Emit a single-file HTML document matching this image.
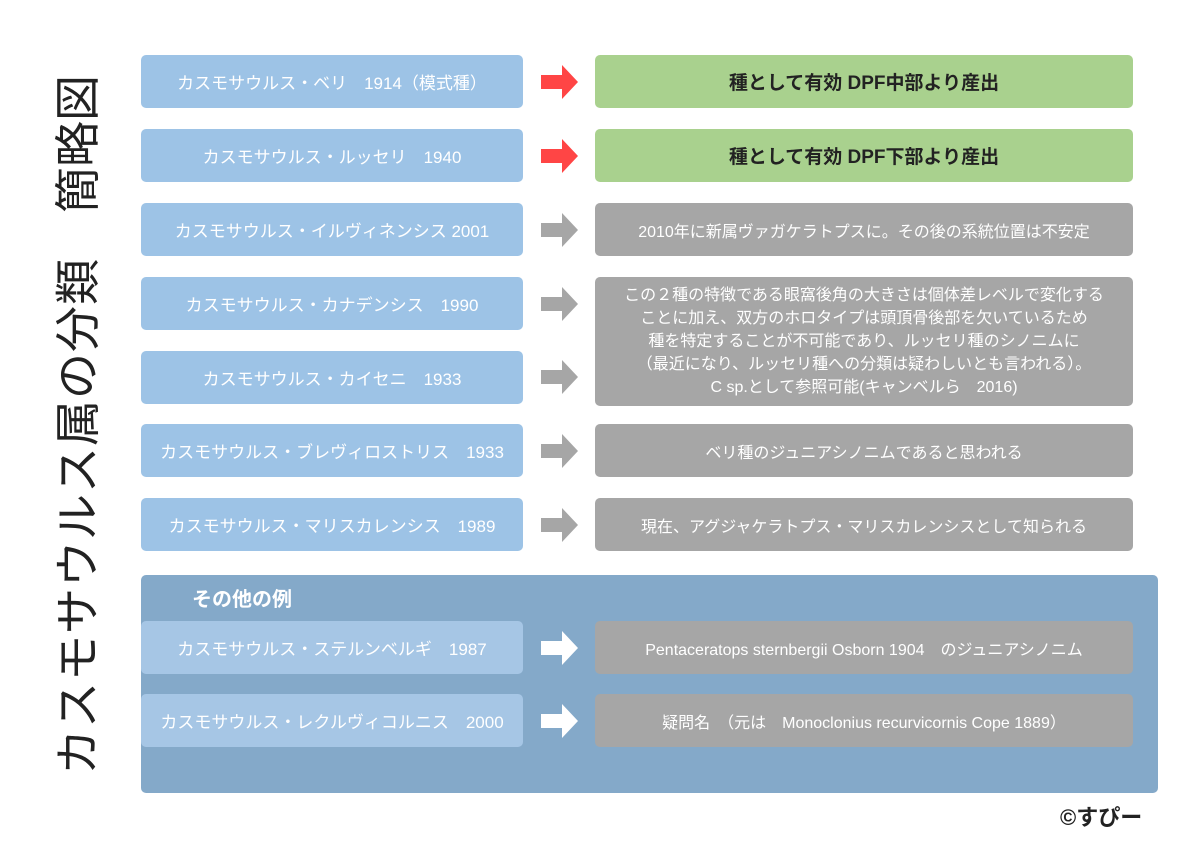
<!DOCTYPE html><html><head><meta charset="utf-8"><style>
body{margin:0;width:1199px;height:848px;background:#fff;position:relative;overflow:hidden;font-family:"Liberation Sans","Noto Sans CJK JP",sans-serif}
.b{position:absolute;display:flex;align-items:center;justify-content:center;border-radius:5px;color:#fff;font-size:17px;text-align:center;white-space:nowrap}
.l{left:141px;width:382px;height:53px;background:#9dc3e6}
.r{left:595px;width:538px;height:53px;background:#a6a6a6;font-size:16px}
.g{background:#a9d18e;color:#222;font-weight:bold;font-size:19px}
.a{position:absolute;left:541px;width:37px;height:34px}
.t{position:absolute;left:-272px;top:400px;width:700px;height:50px;line-height:50px;transform:rotate(-90deg);font-size:46px;color:#222;white-space:nowrap;display:flex;justify-content:space-between}
</style></head><body>
<div class="t"><span style="letter-spacing:1px">カスモサウルス属の分類</span><span>簡略図</span></div>
<div style="position:absolute;left:141px;top:575px;width:1017px;height:218px;background:#84a9c9;border-radius:5px"></div>
<div style="position:absolute;left:192px;top:583px;font-size:20px;font-weight:bold;color:#fff">その他の例</div>

<div class="b l" style="top:55px">カスモサウルス・ベリ　1914（模式種）</div>
<div class="b l" style="top:129px">カスモサウルス・ルッセリ　1940</div>
<div class="b l" style="top:203px">カスモサウルス・イルヴィネンシス 2001</div>
<div class="b l" style="top:277px">カスモサウルス・カナデンシス　1990</div>
<div class="b l" style="top:351px">カスモサウルス・カイセニ　1933</div>
<div class="b l" style="top:424px">カスモサウルス・ブレヴィロストリス　1933</div>
<div class="b l" style="top:498px">カスモサウルス・マリスカレンシス　1989</div>
<div class="b l" style="top:621px;background:#a6c6e5">カスモサウルス・ステルンベルギ　1987</div>
<div class="b l" style="top:694px;background:#a6c6e5">カスモサウルス・レクルヴィコルニス　2000</div>

<div class="b r g" style="top:55px">種として有効 DPF中部より産出</div>
<div class="b r g" style="top:129px">種として有効 DPF下部より産出</div>
<div class="b r" style="top:203px">2010年に新属ヴァガケラトプスに。その後の系統位置は不安定</div>
<div class="b r" style="top:277px;height:129px;line-height:23px;white-space:normal">この２種の特徴である眼窩後角の大きさは個体差レベルで変化する<br>ことに加え、双方のホロタイプは頭頂骨後部を欠いているため<br>種を特定することが不可能であり、ルッセリ種のシノニムに<br>（最近になり、ルッセリ種への分類は疑わしいとも言われる）。<br>C sp.として参照可能(キャンベルら　2016)</div>
<div class="b r" style="top:424px">ベリ種のジュニアシノニムであると思われる</div>
<div class="b r" style="top:498px">現在、アグジャケラトプス・マリスカレンシスとして知られる</div>
<div class="b r" style="top:621px">Pentaceratops sternbergii Osborn 1904　のジュニアシノニム</div>
<div class="b r" style="top:694px">疑問名　（元は　Monoclonius recurvicornis Cope 1889）</div>

<svg class="a" style="top:65px" viewBox="0 0 37 34"><path d="M0 10H21V0L37 17L21 34V24H0Z" fill="#ff4545"/></svg>
<svg class="a" style="top:139px" viewBox="0 0 37 34"><path d="M0 10H21V0L37 17L21 34V24H0Z" fill="#ff4545"/></svg>
<svg class="a" style="top:213px" viewBox="0 0 37 34"><path d="M0 10H21V0L37 17L21 34V24H0Z" fill="#a6a6a6"/></svg>
<svg class="a" style="top:287px" viewBox="0 0 37 34"><path d="M0 10H21V0L37 17L21 34V24H0Z" fill="#a6a6a6"/></svg>
<svg class="a" style="top:360px" viewBox="0 0 37 34"><path d="M0 10H21V0L37 17L21 34V24H0Z" fill="#a6a6a6"/></svg>
<svg class="a" style="top:434px" viewBox="0 0 37 34"><path d="M0 10H21V0L37 17L21 34V24H0Z" fill="#a6a6a6"/></svg>
<svg class="a" style="top:508px" viewBox="0 0 37 34"><path d="M0 10H21V0L37 17L21 34V24H0Z" fill="#a6a6a6"/></svg>
<svg class="a" style="top:631px" viewBox="0 0 37 34"><path d="M0 10H21V0L37 17L21 34V24H0Z" fill="#fff"/></svg>
<svg class="a" style="top:704px" viewBox="0 0 37 34"><path d="M0 10H21V0L37 17L21 34V24H0Z" fill="#fff"/></svg>
<div style="position:absolute;left:1060px;top:800px;font-size:22px;font-weight:bold;color:#222">©すぴー</div>
</body></html>
